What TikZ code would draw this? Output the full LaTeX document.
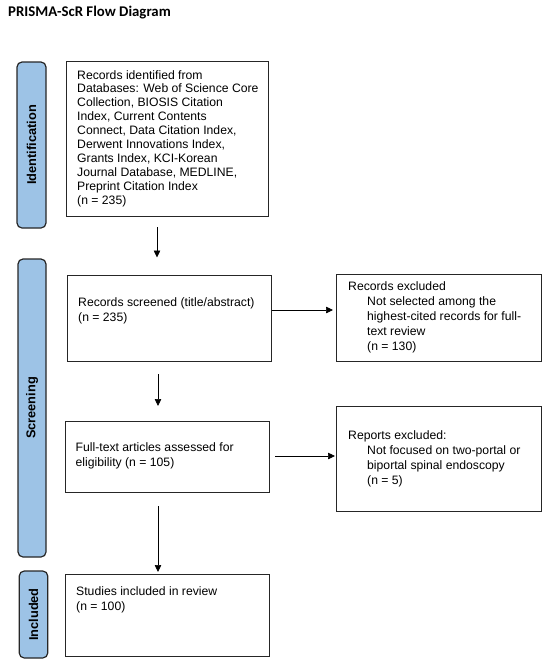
\documentclass[tikz,border=0pt]{standalone}
\usepackage{fontspec}
\setmainfont{Liberation Sans}
\newfontfamily\titlefont{Carlito}
\usetikzlibrary{arrows.meta}
\definecolor{barblue}{RGB}{157,195,230}
\begin{document}
\begin{tikzpicture}[x=1pt,y=-1pt,
  box/.style={draw=black!85, line width=1.2pt, inner sep=0pt, anchor=north west},
  txt/.style={inner sep=0pt, anchor=north west, align=left, font=\fontsize{12.2}{15}\selectfont},
  bar/.style={draw=black!85, fill=barblue, line width=1.2pt, rounded corners=5pt, rotate=90, inner sep=0pt, font=\bfseries\fontsize{12.8}{15}\selectfont},
  arr/.style={-{Triangle[length=7pt,width=6.5pt]}, line width=0.7pt, black}]
\useasboundingbox (0,0) rectangle (550,665);
% title
\node[anchor=west, inner sep=0pt, font=\titlefont\bfseries\fontsize{14.8}{17}\selectfont] (title) at (8,13) {PRISMA-ScR Flow Diagram};
% phase bars
\node[bar, minimum width=166pt, minimum height=29pt] (idbar) at (31.5,145) {Identification};
\node[bar, minimum width=298pt, minimum height=28pt] (scbar) at (32,408) {Screening};
\node[bar, minimum width=87pt, minimum height=28.5pt] (inbar) at (33.5,614.5) {Included};
% boxes
\node[box, minimum width=202pt, minimum height=155pt] (b1) at (66,61) {};
\node[box, minimum width=204pt, minimum height=86pt] (b2) at (67,275) {};
\node[box, minimum width=205pt, minimum height=87pt] (r1) at (336,274) {};
\node[box, minimum width=204pt, minimum height=71pt] (b3) at (65,420.5) {};
\node[box, minimum width=205pt, minimum height=105pt] (r2) at (336,406) {};
\node[box, minimum width=204pt, minimum height=82pt] (b4) at (65,574) {};
% texts
\node[txt, font=\fontsize{12.2}{13.9}\selectfont] (t1) at (77,70) {Records identified from\\Databases: Web of Science Core\\Collection, BIOSIS Citation\\Index, Current Contents\\Connect, Data Citation Index,\\Derwent Innovations Index,\\Grants Index, KCI-Korean\\Journal Database, MEDLINE,\\Preprint Citation Index\\(n = 235)};
\node[txt] (t2) at (78,297.5) {Records screened (title/abstract)\\(n = 235)};
\node[txt] (t3) at (348,281.5) {Records excluded\\\hspace*{19pt}Not selected among the\\\hspace*{19pt}highest-cited records for full-\\\hspace*{19pt}text review\\\hspace*{19pt}(n = 130)};
\node[txt] (t4) at (75.5,442.5) {Full-text articles assessed for\\eligibility (n = 105)};
\node[txt] (t5) at (348,430.5) {Reports excluded:\\\hspace*{19pt}Not focused on two-portal or\\\hspace*{19pt}biportal spinal endoscopy\\\hspace*{19pt}(n = 5)};
\node[txt] (t6) at (76,586.5) {Studies included in review\\(n = 100)};
% arrow end points
\coordinate (a1s) at (157,227);
\coordinate (a1e) at (157,257.5);
\coordinate (a2s) at (158,374);
\coordinate (a2e) at (158,406);
\coordinate (a3s) at (158,506);
\coordinate (a3e) at (158,572);
\coordinate (h1s) at (b2.east |- 0,310);
\coordinate (h1e) at (333,310);
\coordinate (h2s) at (275,456);
\coordinate (h2e) at (335,456);
\draw[arr] (a1s) -- (a1e);
\draw[arr] (a2s) -- (a2e);
\draw[arr] (a3s) -- (a3e);
\draw[arr] (h1s) -- (h1e);
\draw[arr] (h2s) -- (h2e);
\end{tikzpicture}
\end{document}
